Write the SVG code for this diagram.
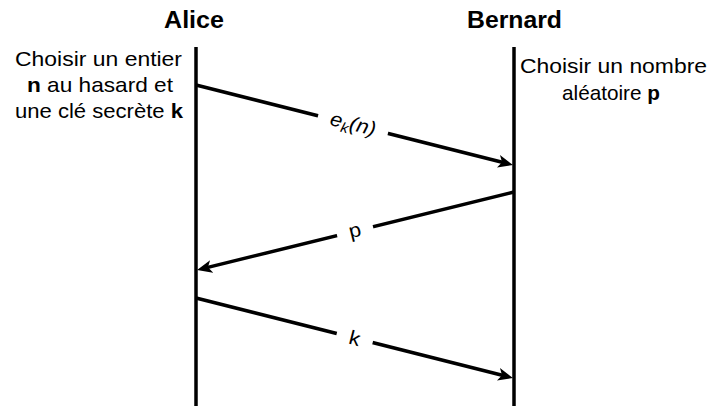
<svg xmlns="http://www.w3.org/2000/svg" width="709" height="406" viewBox="0 0 709 406">
  <style>
    .t { font-family: "Liberation Sans", Arial, sans-serif; font-size: 21px; fill: #000; }
    .title { font-family: "Liberation Sans", Arial, sans-serif; font-size: 23px; font-weight: bold; fill: #000; }
    .lbl { font-family: "Liberation Sans", Arial, sans-serif; font-size: 20px; fill: #000; }
    .life { stroke: #000; stroke-width: 3.5; fill: none; }
    .msg { stroke: #000; stroke-width: 3.5; fill: none; marker-end: url(#arr); }
    .bg { fill: #fff; }
  </style>
  <defs>
    <marker id="arr" markerUnits="userSpaceOnUse" viewBox="0 0 15 13" markerWidth="15" markerHeight="13" refX="6" refY="6.5" orient="auto">
      <path d="M0,0 L15,6.5 L0,13 L3.8,6.5 Z" fill="#000"/>
    </marker>
  </defs>
  <rect width="709" height="406" fill="#fff"/>

  <g id="alice">
    <text class="title" x="194" y="28" text-anchor="middle" textLength="60" lengthAdjust="spacingAndGlyphs">Alice</text>
    <line class="life" x1="196" y1="47" x2="196" y2="406"/>
    <text class="t" x="15" y="66" textLength="167" lengthAdjust="spacingAndGlyphs">Choisir un entier</text>
    <text class="t" x="27" y="92" textLength="146" lengthAdjust="spacingAndGlyphs"><tspan font-weight="bold">n</tspan> au hasard et</text>
    <text class="t" x="15" y="118" textLength="168" lengthAdjust="spacingAndGlyphs">une clé secrète <tspan font-weight="bold">k</tspan></text>
  </g>

  <g id="bernard">
    <text class="title" x="514.5" y="28" text-anchor="middle" textLength="95" lengthAdjust="spacingAndGlyphs">Bernard</text>
    <line class="life" x1="514" y1="47" x2="514" y2="406"/>
    <text class="t" x="520" y="73" textLength="187" lengthAdjust="spacingAndGlyphs">Choisir un nombre</text>
    <text class="t" x="562" y="100" textLength="98" lengthAdjust="spacingAndGlyphs">aléatoire <tspan font-weight="bold">p</tspan></text>
  </g>

  <g id="connectors">
    <g id="msg1">
      <line class="msg" x1="196" y1="85" x2="504.2" y2="162.8"/>
      <g transform="translate(353,124.5) rotate(14.1)">
        <rect class="bg" x="-36" y="-13" width="72" height="26"/>
        <text class="lbl" x="0" y="6" text-anchor="middle" font-style="italic" transform="scale(1.09,1)">e<tspan font-size="14" dy="4">k</tspan><tspan dy="-4">(n)</tspan></text>
      </g>
    </g>
    <g id="msg2">
      <line class="msg" x1="514" y1="192" x2="205.8" y2="267.9"/>
      <g transform="translate(355,231) rotate(-13.8)">
        <rect class="bg" x="-18.5" y="-12" width="37" height="24"/>
        <text class="lbl" x="0" y="6" text-anchor="middle" transform="scale(1.09,1)">p</text>
      </g>
    </g>
    <g id="msg3">
      <line class="msg" x1="196" y1="298" x2="504.2" y2="375.8"/>
      <g transform="translate(354.7,338) rotate(14.2)">
        <rect class="bg" x="-18.5" y="-12" width="37" height="24"/>
        <text class="lbl" x="0" y="7" text-anchor="middle" transform="scale(1.09,1)">k</text>
      </g>
    </g>
  </g>
</svg>
